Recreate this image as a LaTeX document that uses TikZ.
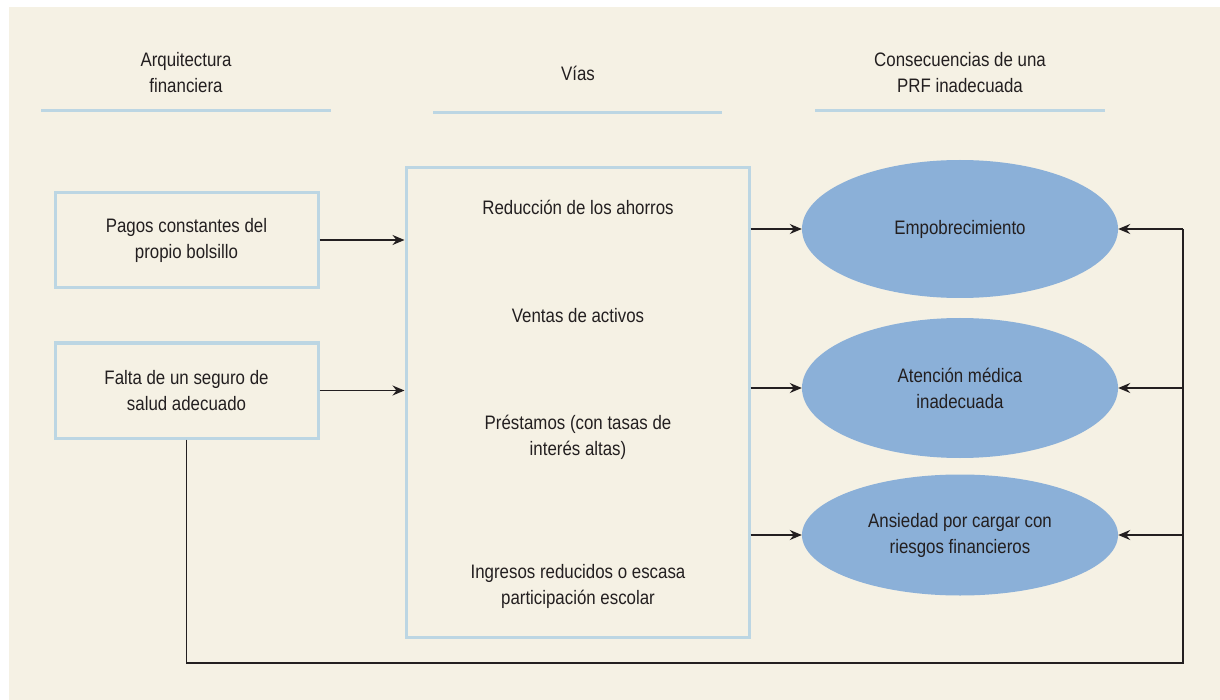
\documentclass[tikz,border=0pt]{standalone}
\usepackage{fontspec}
\setmainfont[FakeStretch=0.865]{Liberation Sans}
\usetikzlibrary{shapes.geometric,arrows.meta}
\definecolor{cream}{HTML}{F5F1E4}
\definecolor{lblue}{HTML}{BCD6E3}
\definecolor{eblue}{HTML}{8BB0D8}
\definecolor{ink}{HTML}{231F20}
\begin{document}
\begin{tikzpicture}[x=1pt,y=-1pt,
  txt/.style={text=ink,font=\fontsize{19.5}{26}\selectfont,align=center,inner sep=0pt},
  hline/.style={lblue,line width=3pt},
  srcbox/.style={draw=lblue,line width=3pt,minimum width=263pt,minimum height=95pt,inner sep=0pt,txt},
  cons/.style={ellipse,fill=eblue,minimum width=316pt,inner sep=0pt,txt},
  arr/.style={ink,line width=1.4pt,-{Stealth[length=12pt,width=10pt,inset=4pt]}},
  ln/.style={ink,line width=1.4pt}]
\useasboundingbox (0,0) rectangle (1220,700);
\fill[white] (0,0) rectangle (1220,700);
\fill[cream] (9,7) rectangle (1220,700);
% headers
\node[txt] (h1) at (186,73) {Arquitectura\\financiera};
\node[txt] (h2) at (578,73) {Vías};
\node[txt] (h3) at (960,73) {Consecuencias de una\\PRF inadecuada};
\draw[hline] (41,111) -- (331,111);
\draw[hline] (433,113) -- (722,113);
\draw[hline] (815,111) -- (1105,111);
% source boxes
\node[srcbox] (b1) at (186.5,240) {Pagos constantes del\\propio bolsillo};
\node[srcbox] (b2) at (186.5,390.5) {Falta de un seguro de\\salud adecuado};
% middle box
\node[draw=lblue,line width=3pt,minimum width=343pt,minimum height=469pt,inner sep=0pt] (mid) at (577.5,402.5) {};
\node[txt] (v1) at (578,207) {Reducción de los ahorros};
\node[txt] (v2) at (578,316) {Ventas de activos};
\node[txt] (v3) at (578,437) {Préstamos (con tasas de\\interés altas)};
\node[txt] (v4) at (578,586) {Ingresos reducidos o escasa\\participación escolar};
% consequences
\node[cons,minimum height=138pt] (e1) at (960,229) {Empobrecimiento};
\node[cons,minimum height=140pt] (e2) at (960,388) {Atención médica\\inadecuada};
\node[cons,minimum height=121pt] (e3) at (960,535) {Ansiedad por cargar con\\riesgos financieros};
% arrows left
\draw[arr] (b1.east) -- (mid.west |- b1.east);
\draw[arr] (b2.east) -- (mid.west |- b2.east);
\draw[arr] (mid.east |- e1.west) -- (e1.west);
\draw[arr] (mid.east |- e2.west) -- (e2.west);
\draw[arr] (mid.east |- e3.west) -- (e3.west);
% feedback loop
\coordinate (r) at (1183,663);
\draw[ln] (b2.south) -- (b2.south |- r) -- (r) -- (r |- e1.east);
\draw[arr] (r |- e1.east) -- (e1.east);
\draw[arr] (r |- e2.east) -- (e2.east);
\draw[arr] (r |- e3.east) -- (e3.east);
\end{tikzpicture}
\end{document}
